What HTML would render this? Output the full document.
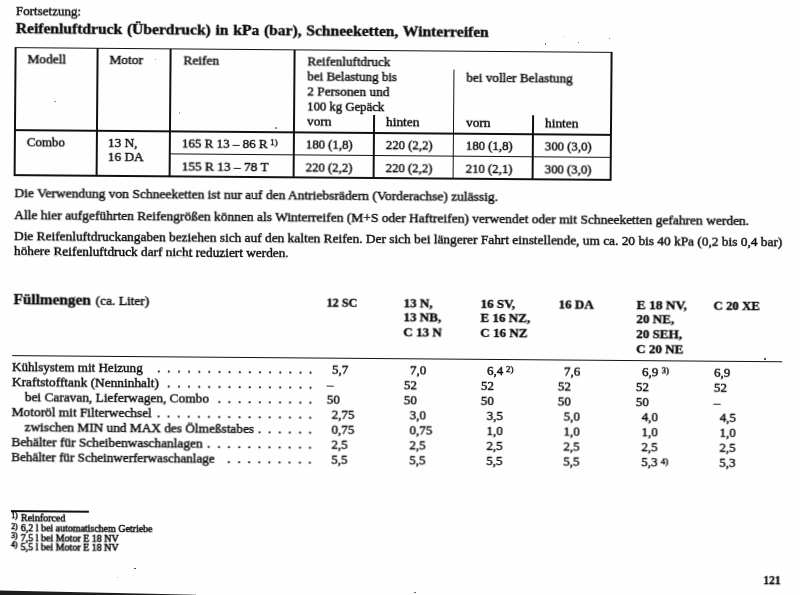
<!DOCTYPE html>
<html lang="de"><head><meta charset="utf-8"><title>Reifenluftdruck / Füllmengen</title>
<style>
html,body{margin:0;padding:0;overflow:hidden;}
#clip{position:absolute;left:0;top:0;width:800px;height:595px;overflow:hidden;}
body{width:800px;height:595px;overflow:hidden;background:#fefefe;position:relative;font-family:"Liberation Serif",serif;color:#0a0a0a;}
#pg{position:absolute;left:0;top:0;width:800px;height:595px;transform-origin:0 0;transform:rotate(0.458deg);will-change:transform;}
.t{position:absolute;white-space:nowrap;line-height:0;transform-origin:0 50%;-webkit-text-stroke:0.4px #0a0a0a;}
.l{position:absolute;}
.s{position:absolute;border-radius:50%;display:block;}
.d{position:absolute;white-space:nowrap;line-height:0;font-size:12.3px;letter-spacing:7.055px;-webkit-text-stroke:0.6px #0a0a0a;}
#edge{position:absolute;left:0;top:590px;width:196px;height:5px;background:#1e1e1e;clip-path:polygon(0 0.6px,100% 4.7px,100% 5px,0 5px);}
</style></head><body>
<div id="clip">
<div id="pg">
<div class="l" style="left:15.15px;top:46.65px;width:598.00px;height:1.70px;background:#111"></div>
<div class="l" style="left:15.15px;top:129.25px;width:598.00px;height:1.70px;background:#111"></div>
<div class="l" style="left:170.45px;top:151.75px;width:442.70px;height:1.70px;background:#111"></div>
<div class="l" style="left:15.15px;top:174.45px;width:598.00px;height:1.70px;background:#111"></div>
<div class="l" style="left:15.15px;top:47.50px;width:1.70px;height:127.80px;background:#111"></div>
<div class="l" style="left:96.85px;top:47.50px;width:1.70px;height:127.80px;background:#111"></div>
<div class="l" style="left:170.45px;top:47.50px;width:1.70px;height:127.80px;background:#111"></div>
<div class="l" style="left:294.45px;top:47.50px;width:1.70px;height:127.80px;background:#111"></div>
<div class="l" style="left:611.45px;top:47.50px;width:1.70px;height:127.80px;background:#111"></div>
<div class="l" style="left:374.15px;top:111.50px;width:1.70px;height:63.80px;background:#111"></div>
<div class="l" style="left:453.55px;top:66.00px;width:1.70px;height:109.30px;background:#111"></div>
<div class="l" style="left:532.85px;top:111.00px;width:1.70px;height:64.30px;background:#111"></div>
<div class="l" style="left:14.80px;top:354.70px;width:770.70px;height:1.80px;background:#111"></div>
<div class="l" style="left:15.40px;top:510.30px;width:77.50px;height:1.80px;background:#111"></div>
<span class="t" id="t0" style="left:16.10px;top:11.25px;font-size:12.3px;transform:scaleX(1.0604);">Fortsetzung:</span>
<span class="t" id="t1" style="left:15.90px;top:28.34px;font-size:15px;font-weight:bold;transform:scaleX(1.0382);word-spacing:0.8px;">Reifenluftdruck (Überdruck) in kPa (bar), Schneeketten, Winterreifen</span>
<span class="t" id="t2" style="left:27.70px;top:59.15px;font-size:12.3px;transform:scaleX(1.0850);">Modell</span>
<span class="t" id="t3" style="left:109.70px;top:59.15px;font-size:12.3px;transform:scaleX(1.0850);">Motor</span>
<span class="t" id="t4" style="left:183.50px;top:59.15px;font-size:12.3px;transform:scaleX(1.0850);">Reifen</span>
<span class="t" id="t5" style="left:308.10px;top:59.15px;font-size:12.3px;transform:scaleX(1.0635);">Reifenluftdruck</span>
<span class="t" id="t6" style="left:308.10px;top:74.05px;font-size:12.3px;transform:scaleX(1.0576);">bei Belastung bis</span>
<span class="t" id="t7" style="left:308.10px;top:88.95px;font-size:12.3px;transform:scaleX(1.0850);">2 Personen und</span>
<span class="t" id="t8" style="left:308.10px;top:103.85px;font-size:12.3px;transform:scaleX(1.0369);">100 kg Gepäck</span>
<span class="t" id="t9" style="left:308.10px;top:118.55px;font-size:12.3px;transform:scaleX(1.0850);">vorn</span>
<span class="t" id="t10" style="left:387.00px;top:118.55px;font-size:12.3px;transform:scaleX(1.0850);">hinten</span>
<span class="t" id="t11" style="left:466.90px;top:74.15px;font-size:12.3px;transform:scaleX(1.0742);">bei voller Belastung</span>
<span class="t" id="t12" style="left:467.00px;top:118.55px;font-size:12.3px;transform:scaleX(1.0850);">vorn</span>
<span class="t" id="t13" style="left:546.00px;top:118.55px;font-size:12.3px;transform:scaleX(1.0850);">hinten</span>
<span class="t" id="t14" style="left:28.00px;top:141.85px;font-size:12.3px;transform:scaleX(1.0492);">Combo</span>
<span class="t" id="t15" style="left:109.30px;top:141.55px;font-size:12.3px;transform:scaleX(1.0850);">13 N,</span>
<span class="t" id="t16" style="left:109.30px;top:156.35px;font-size:12.3px;transform:scaleX(1.0850);">16 DA</span>
<span class="t" id="t17" style="left:183.20px;top:141.85px;font-size:12.3px;transform:scaleX(1.0597);">165 R 13 – 86 R</span>
<span class="t" id="t18" style="left:271.30px;top:140.36px;font-size:9px;">1)</span>
<span class="t" id="t19" style="left:183.20px;top:164.55px;font-size:12.3px;transform:scaleX(1.0850);">155 R 13 – 78 T</span>
<span class="t" id="t20" style="left:307.40px;top:141.85px;font-size:12.3px;transform:scaleX(1.0378);">180 (1,8)</span>
<span class="t" id="t21" style="left:307.40px;top:164.55px;font-size:12.3px;transform:scaleX(1.0378);">220 (2,2)</span>
<span class="t" id="t22" style="left:387.00px;top:141.85px;font-size:12.3px;transform:scaleX(1.0378);">220 (2,2)</span>
<span class="t" id="t23" style="left:387.00px;top:164.55px;font-size:12.3px;transform:scaleX(1.0378);">220 (2,2)</span>
<span class="t" id="t24" style="left:467.00px;top:141.85px;font-size:12.3px;transform:scaleX(1.0378);">180 (1,8)</span>
<span class="t" id="t25" style="left:467.00px;top:164.55px;font-size:12.3px;transform:scaleX(1.0378);">210 (2,1)</span>
<span class="t" id="t26" style="left:546.00px;top:141.85px;font-size:12.3px;transform:scaleX(1.0378);">300 (3,0)</span>
<span class="t" id="t27" style="left:546.00px;top:164.55px;font-size:12.3px;transform:scaleX(1.0378);">300 (3,0)</span>
<span class="t" id="t28" style="left:15.60px;top:193.15px;font-size:12.3px;transform:scaleX(1.0983);">Die Verwendung von Schneeketten ist nur auf den Antriebsrädern (Vorderachse) zulässig.</span>
<span class="t" id="t29" style="left:15.60px;top:214.75px;font-size:12.3px;transform:scaleX(1.0959);">Alle hier aufgeführten Reifengrößen können als Winterreifen (M+S oder Haftreifen) verwendet oder mit Schneeketten gefahren werden.</span>
<span class="t" id="t30" style="left:15.60px;top:236.35px;font-size:12.3px;transform:scaleX(1.0859);">Die Reifenluftdruckangaben beziehen sich auf den kalten Reifen. Der sich bei längerer Fahrt einstellende, um ca. 20 bis 40 kPa (0,2 bis 0,4 bar)</span>
<span class="t" id="t31" style="left:15.60px;top:251.35px;font-size:12.3px;transform:scaleX(1.0814);">höhere Reifenluftdruck darf nicht reduziert werden.</span>
<span class="t" id="t32" style="left:15.50px;top:298.74px;font-size:15px;font-weight:bold;transform:scaleX(1.0179);">Füllmengen</span>
<span class="t" id="t33" style="left:98.20px;top:299.65px;font-size:12.3px;transform:scaleX(1.0945);">(ca. Liter)</span>
<span class="t" id="t34" style="left:328.90px;top:299.61px;font-size:13px;font-weight:bold;transform:scaleX(0.9369);">12 SC</span>
<span class="t" id="t35" style="left:405.90px;top:299.61px;font-size:13px;font-weight:bold;transform:scaleX(1.0050);">13 N,</span>
<span class="t" id="t36" style="left:405.90px;top:314.06px;font-size:13px;font-weight:bold;transform:scaleX(1.0050);">13 NB,</span>
<span class="t" id="t37" style="left:405.90px;top:328.91px;font-size:13px;font-weight:bold;transform:scaleX(1.0050);">C 13 N</span>
<span class="t" id="t38" style="left:483.10px;top:299.61px;font-size:13px;font-weight:bold;transform:scaleX(1.0050);">16 SV,</span>
<span class="t" id="t39" style="left:483.10px;top:314.06px;font-size:13px;font-weight:bold;transform:scaleX(1.0050);">E 16 NZ,</span>
<span class="t" id="t40" style="left:483.10px;top:328.91px;font-size:13px;font-weight:bold;transform:scaleX(1.0050);">C 16 NZ</span>
<span class="t" id="t41" style="left:560.60px;top:299.61px;font-size:13px;font-weight:bold;transform:scaleX(1.0050);">16 DA</span>
<span class="t" id="t42" style="left:638.60px;top:299.61px;font-size:13px;font-weight:bold;transform:scaleX(1.0385);">E 18 NV,</span>
<span class="t" id="t43" style="left:638.60px;top:314.06px;font-size:13px;font-weight:bold;transform:scaleX(1.0050);">20 NE,</span>
<span class="t" id="t44" style="left:638.60px;top:328.91px;font-size:13px;font-weight:bold;transform:scaleX(1.0050);">20 SEH,</span>
<span class="t" id="t45" style="left:638.60px;top:344.16px;font-size:13px;font-weight:bold;transform:scaleX(1.0050);">C 20 NE</span>
<span class="t" id="t46" style="left:716.40px;top:299.61px;font-size:13px;font-weight:bold;transform:scaleX(0.9840);">C 20 XE</span>
<span class="t" id="t47" style="left:15.40px;top:366.75px;font-size:12.3px;transform:scaleX(1.0629);">Kühlsystem mit Heizung</span>
<span class="t" id="t48" style="left:335.40px;top:366.95px;font-size:12.3px;transform:scaleX(1.0600);">5,7</span>
<span class="t" id="t49" style="left:413.40px;top:366.95px;font-size:12.3px;transform:scaleX(1.0600);">7,0</span>
<span class="t" id="t50" style="left:489.60px;top:366.95px;font-size:12.3px;transform:scaleX(1.0600);">6,4</span>
<span class="t" id="t51" style="left:567.10px;top:366.95px;font-size:12.3px;transform:scaleX(1.0600);">7,6</span>
<span class="t" id="t52" style="left:645.10px;top:366.95px;font-size:12.3px;transform:scaleX(1.0600);">6,9</span>
<span class="t" id="t53" style="left:717.10px;top:366.95px;font-size:12.3px;transform:scaleX(1.0600);">6,9</span>
<span class="t" id="t54" style="left:15.40px;top:381.77px;font-size:12.3px;transform:scaleX(1.0850);">Kraftstofftank (Nenninhalt)</span>
<span class="t" id="t55" style="left:329.60px;top:381.97px;font-size:12.3px;transform:scaleX(1.0600);">–</span>
<span class="t" id="t56" style="left:406.60px;top:381.97px;font-size:12.3px;transform:scaleX(1.0600);">52</span>
<span class="t" id="t57" style="left:483.80px;top:381.97px;font-size:12.3px;transform:scaleX(1.0600);">52</span>
<span class="t" id="t58" style="left:561.30px;top:381.97px;font-size:12.3px;transform:scaleX(1.0600);">52</span>
<span class="t" id="t59" style="left:639.30px;top:381.97px;font-size:12.3px;transform:scaleX(1.0600);">52</span>
<span class="t" id="t60" style="left:717.10px;top:381.97px;font-size:12.3px;transform:scaleX(1.0600);">52</span>
<span class="t" id="t61" style="left:27.50px;top:396.79px;font-size:12.3px;transform:scaleX(1.0850);">bei Caravan, Lieferwagen, Combo</span>
<span class="t" id="t62" style="left:329.60px;top:396.99px;font-size:12.3px;transform:scaleX(1.0600);">50</span>
<span class="t" id="t63" style="left:406.60px;top:396.99px;font-size:12.3px;transform:scaleX(1.0600);">50</span>
<span class="t" id="t64" style="left:483.80px;top:396.99px;font-size:12.3px;transform:scaleX(1.0600);">50</span>
<span class="t" id="t65" style="left:561.30px;top:396.99px;font-size:12.3px;transform:scaleX(1.0600);">50</span>
<span class="t" id="t66" style="left:639.30px;top:396.99px;font-size:12.3px;transform:scaleX(1.0600);">50</span>
<span class="t" id="t67" style="left:717.10px;top:396.99px;font-size:12.3px;transform:scaleX(1.0600);">–</span>
<span class="t" id="t68" style="left:15.40px;top:411.81px;font-size:12.3px;transform:scaleX(1.0850);">Motoröl mit Filterwechsel</span>
<span class="t" id="t69" style="left:335.40px;top:412.01px;font-size:12.3px;transform:scaleX(1.0600);">2,75</span>
<span class="t" id="t70" style="left:413.40px;top:412.01px;font-size:12.3px;transform:scaleX(1.0600);">3,0</span>
<span class="t" id="t71" style="left:489.60px;top:412.01px;font-size:12.3px;transform:scaleX(1.0600);">3,5</span>
<span class="t" id="t72" style="left:567.10px;top:412.01px;font-size:12.3px;transform:scaleX(1.0600);">5,0</span>
<span class="t" id="t73" style="left:645.10px;top:412.01px;font-size:12.3px;transform:scaleX(1.0600);">4,0</span>
<span class="t" id="t74" style="left:722.90px;top:412.01px;font-size:12.3px;transform:scaleX(1.0600);">4,5</span>
<span class="t" id="t75" style="left:27.50px;top:426.83px;font-size:12.3px;transform:scaleX(1.0821);">zwischen MIN und MAX des Ölmeßstabes</span>
<span class="t" id="t76" style="left:335.40px;top:427.03px;font-size:12.3px;transform:scaleX(1.0600);">0,75</span>
<span class="t" id="t77" style="left:413.40px;top:427.03px;font-size:12.3px;transform:scaleX(1.0600);">0,75</span>
<span class="t" id="t78" style="left:489.60px;top:427.03px;font-size:12.3px;transform:scaleX(1.0600);">1,0</span>
<span class="t" id="t79" style="left:567.10px;top:427.03px;font-size:12.3px;transform:scaleX(1.0600);">1,0</span>
<span class="t" id="t80" style="left:645.10px;top:427.03px;font-size:12.3px;transform:scaleX(1.0600);">1,0</span>
<span class="t" id="t81" style="left:722.90px;top:427.03px;font-size:12.3px;transform:scaleX(1.0600);">1,0</span>
<span class="t" id="t82" style="left:15.40px;top:441.85px;font-size:12.3px;transform:scaleX(1.0850);">Behälter für Scheibenwaschanlagen</span>
<span class="t" id="t83" style="left:335.40px;top:442.05px;font-size:12.3px;transform:scaleX(1.0600);">2,5</span>
<span class="t" id="t84" style="left:413.40px;top:442.05px;font-size:12.3px;transform:scaleX(1.0600);">2,5</span>
<span class="t" id="t85" style="left:489.60px;top:442.05px;font-size:12.3px;transform:scaleX(1.0600);">2,5</span>
<span class="t" id="t86" style="left:567.10px;top:442.05px;font-size:12.3px;transform:scaleX(1.0600);">2,5</span>
<span class="t" id="t87" style="left:645.10px;top:442.05px;font-size:12.3px;transform:scaleX(1.0600);">2,5</span>
<span class="t" id="t88" style="left:722.90px;top:442.05px;font-size:12.3px;transform:scaleX(1.0600);">2,5</span>
<span class="t" id="t89" style="left:15.40px;top:456.87px;font-size:12.3px;transform:scaleX(1.0676);">Behälter für Scheinwerferwaschanlage</span>
<span class="t" id="t90" style="left:335.40px;top:457.07px;font-size:12.3px;transform:scaleX(1.0600);">5,5</span>
<span class="t" id="t91" style="left:413.40px;top:457.07px;font-size:12.3px;transform:scaleX(1.0600);">5,5</span>
<span class="t" id="t92" style="left:489.60px;top:457.07px;font-size:12.3px;transform:scaleX(1.0600);">5,5</span>
<span class="t" id="t93" style="left:567.10px;top:457.07px;font-size:12.3px;transform:scaleX(1.0600);">5,5</span>
<span class="t" id="t94" style="left:645.10px;top:457.07px;font-size:12.3px;transform:scaleX(1.0600);">5,3</span>
<span class="t" id="t95" style="left:722.90px;top:457.07px;font-size:12.3px;transform:scaleX(1.0600);">5,3</span>
<span class="t" id="t96" style="left:509.00px;top:365.46px;font-size:9px;">2)</span>
<span class="t" id="t97" style="left:664.50px;top:365.46px;font-size:9px;">3)</span>
<span class="t" id="t98" style="left:664.50px;top:455.58px;font-size:9px;">4)</span>
<span class="t" id="t99" style="left:15.50px;top:516.17px;font-size:7.5px;-webkit-text-stroke-width:0.5px;">1)</span>
<span class="t" id="t100" style="left:24.50px;top:517.76px;font-size:9.3px;transform:scaleX(1.0750);-webkit-text-stroke-width:0.5px;">Reinforced</span>
<span class="t" id="t101" style="left:15.50px;top:526.67px;font-size:7.5px;-webkit-text-stroke-width:0.5px;">2)</span>
<span class="t" id="t102" style="left:24.50px;top:528.26px;font-size:9.3px;transform:scaleX(1.0694);-webkit-text-stroke-width:0.5px;">6,2 l bei automatischem Getriebe</span>
<span class="t" id="t103" style="left:15.50px;top:536.17px;font-size:7.5px;-webkit-text-stroke-width:0.5px;">3)</span>
<span class="t" id="t104" style="left:24.50px;top:537.76px;font-size:9.3px;transform:scaleX(1.0750);-webkit-text-stroke-width:0.5px;">7,5 l bei Motor E 18 NV</span>
<span class="t" id="t105" style="left:15.50px;top:545.37px;font-size:7.5px;-webkit-text-stroke-width:0.5px;">4)</span>
<span class="t" id="t106" style="left:24.50px;top:546.96px;font-size:9.3px;transform:scaleX(1.0750);-webkit-text-stroke-width:0.5px;">5,5 l bei Motor E 18 NV</span>
<span class="t" id="t107" style="left:768.20px;top:574.08px;font-size:12.5px;font-weight:bold;transform:scaleX(0.9200);">121</span>
<span class="d" style="left:160.15px;top:366.95px;">................</span>
<span class="d" style="left:170.28px;top:381.97px;">...............</span>
<span class="d" style="left:220.93px;top:396.99px;">..........</span>
<span class="d" style="left:160.15px;top:412.01px;">................</span>
<span class="d" style="left:261.45px;top:427.03px;">......</span>
<span class="d" style="left:210.80px;top:442.05px;">...........</span>
<span class="d" style="left:231.06px;top:457.07px;">.........</span>
</div>
<div id="edge"></div>
<i class="s" style="left:545.0px;top:43.2px;width:1.4px;height:1.4px;background:#555"></i><i class="s" style="left:577.8px;top:41.9px;width:1.4px;height:1.4px;background:#444"></i><i class="s" style="left:608.5px;top:38.0px;width:1.3px;height:1.3px;background:#666"></i><i class="s" style="left:154.5px;top:58.7px;width:1.2px;height:1.2px;background:#888"></i><i class="s" style="left:54.4px;top:101.0px;width:1.2px;height:1.2px;background:#888"></i><i class="s" style="left:178.7px;top:112.4px;width:1.2px;height:1.2px;background:#999"></i><i class="s" style="left:275.4px;top:127.4px;width:1.2px;height:1.2px;background:#888"></i><i class="s" style="left:764.2px;top:358.2px;width:1.5px;height:1.5px;background:#333"></i><i class="s" style="left:134.2px;top:567.5px;width:1.6px;height:1.6px;background:#333"></i><i class="s" style="left:414.3px;top:591.6px;width:1.4px;height:1.4px;background:#555"></i><i class="s" style="left:564.1px;top:35.8px;width:1.1px;height:1.1px;background:#aaa"></i><i class="s" style="left:116.9px;top:576.9px;width:1.2px;height:1.2px;background:#aaa"></i>
</div>
</body></html>
